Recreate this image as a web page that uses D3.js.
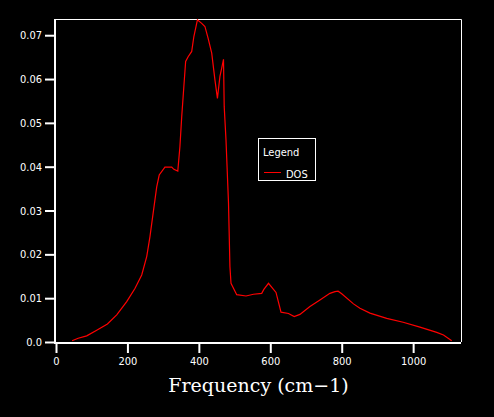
<!DOCTYPE html>
<html>
<head>
<meta charset="utf-8">
<script src="https://cdn.jsdelivr.net/npm/d3@7"></script>
<style>
  body { margin: 0; background: #000; }
  svg { display: block; }
  .tick text { font-family: "Liberation Sans Narrow", "DejaVu Sans Condensed", "Liberation Sans", sans-serif; font-size: 11px; fill: #fff; }
</style>
</head>
<body>
<script>
// DOS curve
var freq = [45, 62, 86, 114, 144, 170, 198, 221, 240, 254, 263, 272, 282, 289, 305, 324, 330, 341,
            347, 352, 358, 363, 370, 380, 386, 396, 408, 417, 426, 436, 445, 452, 459, 464, 469,
            471, 476, 483, 487, 490, 506, 532, 553, 576, 582, 595, 616, 630, 651, 667, 683,
            711, 739, 767, 781, 790, 800, 833, 851, 879, 926, 972, 1019, 1066, 1085, 1108];
var dos = [0.0003, 0.00085, 0.0014, 0.0027, 0.0041, 0.0062, 0.0092, 0.0122, 0.0153, 0.0195, 0.024, 0.0294, 0.0354, 0.0381, 0.0399, 0.0399, 0.0394, 0.039,
           0.0446, 0.0514, 0.0583, 0.064, 0.0651, 0.0663, 0.0697, 0.0735, 0.0727, 0.072, 0.0693, 0.0659, 0.0598, 0.0556, 0.0606, 0.0625, 0.0645,
           0.0537, 0.0461, 0.0317, 0.0172, 0.0134, 0.0108, 0.0105, 0.0109, 0.0111, 0.012, 0.0134, 0.0113, 0.0068, 0.0065, 0.0058, 0.0063,
           0.0081, 0.0096, 0.0111, 0.0115, 0.0116, 0.011, 0.0087, 0.0077, 0.0066, 0.0054, 0.0045, 0.0034, 0.0022, 0.0016, 0.0003];
var xTicks = [0, 200, 400, 600, 800, 1000];
var yTicks = [0, 0.01, 0.02, 0.03, 0.04, 0.05, 0.06, 0.07];
var yTickLabels = ["0.0", "0.01", "0.02", "0.03", "0.04", "0.05", "0.06", "0.07"];

(function (){

var width = 494, height = 417;
var plotLeft = 56, plotRight = 461, plotTop = 19, plotBottom = 342;

var svg = d3.select("body").append("svg")
    .attr("width", width)
    .attr("height", height)
    .style("background", "#000");

var x = d3.scaleLinear().domain([0, 1134]).range([plotLeft, plotRight]);
var y = d3.scaleLinear().domain([0, 0.0737]).range([plotBottom, plotTop]);

//top and right frame lines (thin)
svg.append("path")
    .attr("d", "M" + plotLeft + "," + (plotTop + 0.5) + "H" + (plotRight + 0.5) + "V" + plotBottom)
    .attr("fill", "none")
    .attr("stroke", "#fff")
    .attr("stroke-width", 1);

//axes
var xAxis = svg.append("g")
    .attr("transform", "translate(0," + (plotBottom + 1) + ")")
    .call(d3.axisBottom(x).tickValues(xTicks).tickSize(10).tickPadding(4).tickSizeOuter(0).tickFormat(d3.format("d")));
var yAxis = svg.append("g")
    .attr("transform", "translate(" + (plotLeft - 1) + ",0)")
    .call(d3.axisLeft(y).tickValues(yTicks).tickSize(10).tickPadding(3).tickSizeOuter(0)
        .tickFormat(function(d, i){ return yTickLabels[i]; }));

[xAxis, yAxis].forEach(function(g){
    g.select(".domain").attr("stroke", "#fff").attr("stroke-width", 2);
    g.selectAll(".tick line").attr("stroke", "#fff").attr("stroke-width", 2);
});
xAxis.select(".domain").attr("d", "M" + (plotLeft - 2) + ",0H" + plotRight);
yAxis.select(".domain").attr("d", "M0," + plotTop + "V" + (plotBottom + 2));

//DOS line
var line = d3.line()
    .x(function(d, i){ return x(freq[i]); })
    .y(function(d){ return y(d); });

svg.append("path")
    .datum(dos)
    .attr("d", line)
    .attr("fill", "none")
    .attr("stroke", "#ff0000")
    .attr("stroke-width", 1.2);

//x title
svg.append("text")
    .attr("x", (plotLeft + plotRight) / 2)
    .attr("y", 392)
    .attr("text-anchor", "middle")
    .attr("fill", "#fff")
    .style("font-family", "'DejaVu Serif', 'Liberation Serif', serif")
    .style("font-size", "19px")
    .text("Frequency (cm\u22121)");

//legend
var legend = svg.append("g");
legend.append("rect")
    .attr("x", 258.5).attr("y", 138.5)
    .attr("width", 57).attr("height", 42)
    .attr("fill", "none")
    .attr("stroke", "#fff");
legend.append("text")
    .attr("x", 263).attr("y", 156)
    .attr("fill", "#fff")
    .style("font-family", "'Liberation Sans Narrow', 'DejaVu Sans Condensed', sans-serif")
    .style("font-size", "11px")
    .text("Legend");
legend.append("line")
    .attr("x1", 264).attr("x2", 281)
    .attr("y1", 172.5).attr("y2", 172.5)
    .attr("stroke", "#ff0000");
legend.append("text")
    .attr("x", 286).attr("y", 177.5)
    .attr("fill", "#fff")
    .style("font-family", "'Liberation Sans Narrow', 'DejaVu Sans Condensed', sans-serif")
    .style("font-size", "11px")
    .text("DOS");

})();
</script>
</body>
</html>
